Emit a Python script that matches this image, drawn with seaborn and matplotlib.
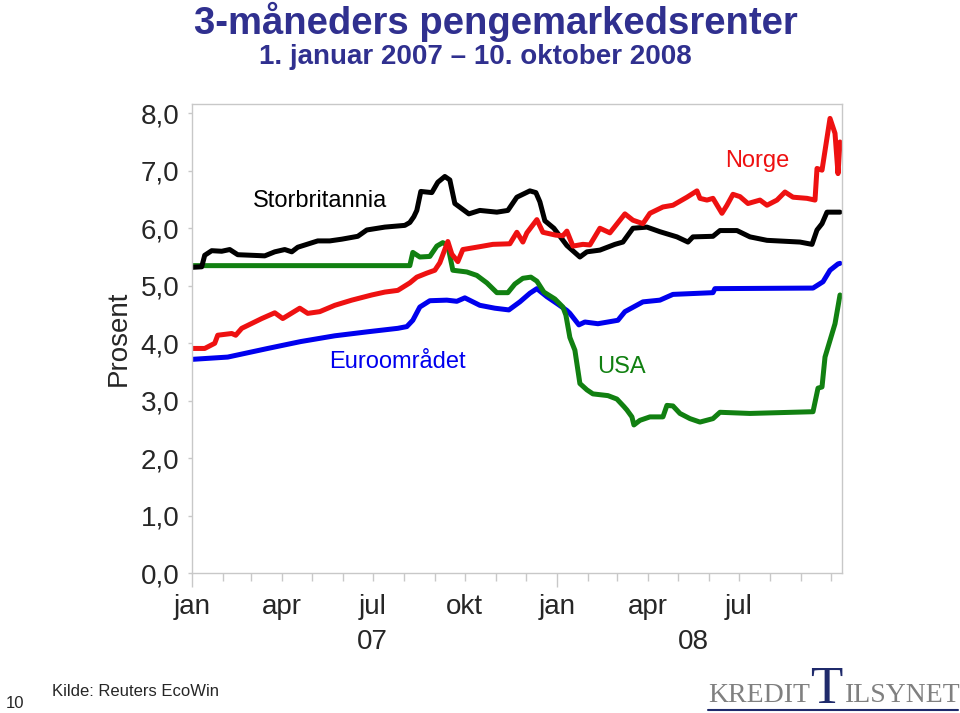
import numpy as np
import pandas as pd
import matplotlib
matplotlib.use("Agg")
import matplotlib.pyplot as plt
import matplotlib.dates as mdates
import matplotlib.ticker as mticker
import matplotlib.transforms as mtransforms
from matplotlib.lines import Line2D
import seaborn as sns

# 3-month money market rates
usa_dates = ["2007-01-01", "2007-08-07", "2007-08-10", "2007-08-17", "2007-08-27", "2007-09-03",
             "2007-09-09", "2007-09-14", "2007-09-19", "2007-10-03", "2007-10-13", "2007-10-23",
             "2007-11-02", "2007-11-13", "2007-11-20", "2007-11-28", "2007-12-06", "2007-12-12",
             "2007-12-19", "2007-12-30", "2008-01-07", "2008-01-10", "2008-01-14", "2008-01-19",
             "2008-01-24", "2008-01-31", "2008-02-06", "2008-02-21", "2008-03-01", "2008-03-08",
             "2008-03-11", "2008-03-16", "2008-03-18", "2008-03-24", "2008-04-03", "2008-04-16",
             "2008-04-20", "2008-04-26", "2008-05-03", "2008-05-13", "2008-05-23", "2008-06-05",
             "2008-06-12", "2008-07-12", "2008-09-13", "2008-09-18", "2008-09-22", "2008-09-25",
             "2008-09-30", "2008-10-05", "2008-10-10"]
usa_values = [5.35, 5.35, 5.58, 5.50, 5.51, 5.69,
              5.75, 5.70, 5.27, 5.24, 5.18, 5.05,
              4.88, 4.88, 5.03, 5.13, 5.15, 5.08,
              4.89, 4.77, 4.63, 4.49, 4.10, 3.88,
              3.30, 3.19, 3.12, 3.09, 3.03, 2.90,
              2.84, 2.72, 2.58, 2.66, 2.72, 2.72,
              2.92, 2.91, 2.78, 2.69, 2.63, 2.69,
              2.80, 2.78, 2.81, 3.22, 3.24, 3.76,
              4.05, 4.34, 4.84]

euro_dates = ["2007-01-01", "2007-02-06", "2007-03-18", "2007-04-20", "2007-05-24", "2007-06-26",
              "2007-07-26", "2007-08-04", "2007-08-10", "2007-08-17", "2007-08-27", "2007-09-13",
              "2007-09-23", "2007-10-01", "2007-10-16", "2007-10-31", "2007-11-14", "2007-11-25",
              "2007-12-05", "2007-12-12", "2007-12-22", "2008-01-02", "2008-01-11", "2008-01-14",
              "2008-01-23", "2008-01-29", "2008-02-11", "2008-03-02", "2008-03-09", "2008-03-27",
              "2008-04-13", "2008-04-26", "2008-06-05", "2008-06-07", "2008-09-13", "2008-09-23",
              "2008-09-30", "2008-10-08", "2008-10-10"]
euro_values = [3.72, 3.76, 3.91, 4.03, 4.13, 4.20,
               4.26, 4.29, 4.40, 4.63, 4.74, 4.75,
               4.73, 4.79, 4.66, 4.61, 4.58, 4.72,
               4.87, 4.95, 4.81, 4.68, 4.57, 4.52,
               4.32, 4.37, 4.34, 4.40, 4.55, 4.72,
               4.75, 4.85, 4.88, 4.95, 4.96, 5.07,
               5.27, 5.38, 5.39]

norge_dates = ["2007-01-01", "2007-01-14", "2007-01-24", "2007-01-27", "2007-02-10", "2007-02-14",
               "2007-02-20", "2007-03-12", "2007-03-25", "2007-04-02", "2007-04-19", "2007-04-27",
               "2007-05-09", "2007-05-24", "2007-06-10", "2007-06-30", "2007-07-13", "2007-07-26",
               "2007-08-07", "2007-08-14", "2007-08-24", "2007-09-01", "2007-09-06", "2007-09-14",
               "2007-09-18", "2007-09-24", "2007-09-29", "2007-10-16", "2007-10-29", "2007-11-15",
               "2007-11-22", "2007-11-28", "2007-12-02", "2007-12-12", "2007-12-18", "2007-12-31",
               "2008-01-07", "2008-01-11", "2008-01-17", "2008-01-27", "2008-02-03", "2008-02-13",
               "2008-02-23", "2008-03-09", "2008-03-17", "2008-03-27", "2008-04-03", "2008-04-16",
               "2008-04-26", "2008-05-10", "2008-05-20", "2008-05-23", "2008-05-30", "2008-06-05",
               "2008-06-14", "2008-06-19", "2008-06-25", "2008-07-02", "2008-07-10", "2008-07-22",
               "2008-07-29", "2008-08-08", "2008-08-16", "2008-08-24", "2008-09-07", "2008-09-15",
               "2008-09-17", "2008-09-22", "2008-09-30", "2008-10-05", "2008-10-08", "2008-10-10"]
norge_values = [3.91, 3.91, 4.00, 4.14, 4.17, 4.14,
                4.26, 4.43, 4.53, 4.43, 4.61, 4.52,
                4.55, 4.66, 4.75, 4.84, 4.89, 4.92,
                5.05, 5.15, 5.22, 5.27, 5.40, 5.77,
                5.55, 5.42, 5.63, 5.68, 5.72, 5.73,
                5.93, 5.76, 5.92, 6.15, 5.93, 5.88,
                5.87, 5.95, 5.69, 5.72, 5.71, 6.00,
                5.92, 6.25, 6.14, 6.08, 6.26, 6.37,
                6.40, 6.54, 6.65, 6.52, 6.49, 6.52,
                6.26, 6.40, 6.59, 6.55, 6.43, 6.49,
                6.40, 6.49, 6.63, 6.54, 6.52, 6.49,
                7.04, 7.01, 7.91, 7.65, 6.95, 7.50]

uk_dates = ["2007-01-01", "2007-01-11", "2007-01-14", "2007-01-21", "2007-01-31", "2007-02-08",
            "2007-02-16", "2007-03-02", "2007-03-15", "2007-03-25", "2007-04-04", "2007-04-11",
            "2007-04-17", "2007-05-07", "2007-05-19", "2007-05-31", "2007-06-16", "2007-06-25",
            "2007-07-13", "2007-08-02", "2007-08-07", "2007-08-11", "2007-08-14", "2007-08-18",
            "2007-08-29", "2007-09-04", "2007-09-11", "2007-09-16", "2007-09-21", "2007-10-05",
            "2007-10-16", "2007-11-02", "2007-11-13", "2007-11-22", "2007-12-05", "2007-12-11",
            "2007-12-15", "2007-12-20", "2007-12-29", "2008-01-11", "2008-01-24", "2008-01-31",
            "2008-02-13", "2008-02-28", "2008-03-07", "2008-03-17", "2008-03-31", "2008-04-13",
            "2008-04-30", "2008-05-11", "2008-05-16", "2008-06-05", "2008-06-12", "2008-06-29",
            "2008-07-12", "2008-07-29", "2008-08-31", "2008-09-12", "2008-09-17", "2008-09-22",
            "2008-09-27", "2008-10-10"]
uk_values = [5.32, 5.33, 5.53, 5.61, 5.60, 5.63,
             5.54, 5.53, 5.52, 5.59, 5.63, 5.59,
             5.67, 5.78, 5.78, 5.81, 5.86, 5.97,
             6.02, 6.05, 6.10, 6.20, 6.31, 6.64,
             6.62, 6.80, 6.90, 6.84, 6.43, 6.25,
             6.31, 6.28, 6.31, 6.54, 6.65, 6.62,
             6.46, 6.13, 6.00, 5.70, 5.50, 5.59,
             5.62, 5.72, 5.76, 6.00, 6.02, 5.94,
             5.85, 5.76, 5.85, 5.86, 5.96, 5.96,
             5.85, 5.79, 5.76, 5.72, 5.97, 6.08,
             6.28, 6.28]

countries = ["Euroområdet", "USA", "Storbritannia", "Norge"]
colors = {"Euroområdet": "#0000ee", "USA": "#118011",
          "Storbritannia": "#000000", "Norge": "#ee1111"}
month_names = {1: "jan", 4: "apr", 7: "jul", 10: "okt"}
last_label = pd.Timestamp("2008-07-01")

frames = []
for name, d, v in [("Euroområdet", euro_dates, euro_values),
                   ("USA", usa_dates, usa_values),
                   ("Storbritannia", uk_dates, uk_values),
                   ("Norge", norge_dates, norge_values)]:
    frames.append(pd.DataFrame({"dato": pd.to_datetime(d), "rente": v, "land": name}))
df = pd.concat(frames, ignore_index=True)

sns.set_style("white")
plt.rcParams["font.family"] = ["Liberation Sans", "DejaVu Sans"]

fig = plt.figure(figsize=(9.6, 7.13), dpi=100)
ax = fig.add_axes([0.1997, 0.1959, 0.6774, 0.6582])

sns.lineplot(data=df, x="dato", y="rente", hue="land", hue_order=countries,
             palette=colors, linewidth=3.6, legend=False, ax=ax, estimator=None,
             solid_joinstyle="round")

grey = "#c8c8c8"
for s in ax.spines.values():
    s.set_color(grey)
    s.set_linewidth(1.0)

ax.set_xlim(pd.Timestamp("2007-01-01"), pd.Timestamp("2008-10-12"))
ax.set_ylim(0, 8.16)
ax.set_yticks(np.arange(0, 9, 1))
ax.yaxis.set_major_formatter(mticker.FuncFormatter(lambda v, p: f"{v:.1f}".replace(".", ",")))


def month_label(v, p):
    d = mdates.num2date(v).replace(tzinfo=None)
    if d > last_label:
        return ""
    return month_names.get(d.month, "")


ax.xaxis.set_major_locator(mdates.YearLocator())
ax.xaxis.set_minor_locator(mdates.MonthLocator())
ax.xaxis.set_major_formatter(mticker.FuncFormatter(month_label))
ax.xaxis.set_minor_formatter(mticker.FuncFormatter(month_label))

ax.tick_params(axis="x", which="major", length=10, width=1, color=grey, pad=5,
               labelsize=20, direction="out", bottom=True)
ax.tick_params(axis="x", which="minor", length=6, width=1, color=grey, pad=9,
               labelsize=20, direction="out", bottom=True)
ax.tick_params(axis="y", which="major", length=3, width=1, color=grey, pad=6,
               labelsize=20, direction="out", left=True)
ax.set_xlabel("")
ax.set_ylabel("Prosent", fontsize=20)
ax.yaxis.set_label_coords(-0.092, 0.5)

# year labels under the months
trans = mtransforms.blended_transform_factory(ax.transData, ax.transAxes)
ax.text(pd.Timestamp("2007-07-01"), -0.146, "07", transform=trans, fontsize=20,
        ha="center", va="center")
ax.text(pd.Timestamp("2008-05-16"), -0.146, "08", transform=trans, fontsize=20,
        ha="center", va="center")

# series names
ax.text(pd.Timestamp("2007-05-09"), 6.47, "Storbritannia", fontsize=17, color=colors["Storbritannia"],
        ha="center", va="center")
ax.text(pd.Timestamp("2008-07-19"), 7.17, "Norge", fontsize=17, color=colors["Norge"],
        ha="center", va="center")
ax.text(pd.Timestamp("2007-07-26"), 3.67, "Euroområdet", fontsize=17, color=colors["Euroområdet"],
        ha="center", va="center")
ax.text(pd.Timestamp("2008-03-06"), 3.59, "USA", fontsize=17, color=colors["USA"],
        ha="center", va="center")

navy = "#30308f"
fig.text(496 / 960, 1 - 22 / 713, "3-måneders pengemarkedsrenter", fontsize=27.5,
         fontweight="bold", color=navy, ha="center", va="center")
fig.text(475 / 960, 1 - 57 / 713, "1. januar 2007 – 10. oktober 2008", fontsize=20,
         fontweight="bold", color=navy, ha="center", va="center")

fig.text(15 / 960, 1 - 704 / 713, "10", fontsize=12, ha="center", va="center")
fig.text(52 / 960, 1 - 692 / 713, "Kilde: Reuters EcoWin", fontsize=12, ha="left", va="center")

# logo
logo_navy = "#1f2a6b"
fig.text(708 / 960, 1 - 695 / 713, "KREDIT", family=["Liberation Serif", "DejaVu Serif"],
         fontsize=20, color="#808080", ha="left", va="center")
fig.text(826 / 960, 1 - 690 / 713, "T", family=["Liberation Serif", "DejaVu Serif"],
         fontsize=38, color=logo_navy, ha="center", va="center")
fig.text(845 / 960, 1 - 695 / 713, "ILSYNET", family=["Liberation Serif", "DejaVu Serif"],
         fontsize=20, color="#808080", ha="left", va="center")
fig.add_artist(Line2D([708 / 960, 958 / 960], [1 - 710 / 713, 1 - 710 / 713],
                      color=logo_navy, linewidth=1.5))

fig.savefig("out.png", dpi=100)
